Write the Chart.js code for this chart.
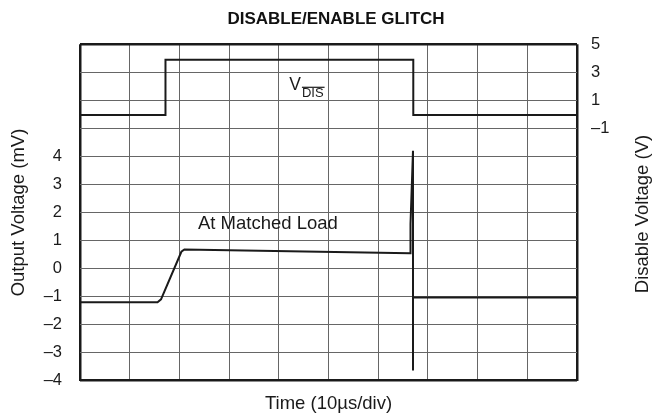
<!DOCTYPE html>
<html>
<head>
<meta charset="utf-8">
<script src="https://cdn.jsdelivr.net/npm/chart.js@4/dist/chart.umd.min.js"></script>
<style>
  html, body { margin: 0; padding: 0; background: #fff; }
  canvas { display: block; }
</style>
</head>
<body>
<canvas id="glitch" width="654" height="414"></canvas>
<script>
// Output trace at matched load (time in µs, output in mV)
const outputTimeUs = [0, 15.6, 16.3, 20.4, 21.0, 66.4, 66.5, 67.0, 67.0, 67.0, 100];
const outputMv     = [-1.2, -1.2, -1.1, 0.6, 0.68, 0.55, 1.6, 4.2, -3.64, -1.03, -1.03];

// Disable control voltage (time in µs, volts)
const disableTimeUs = [0, 17.2, 17.2, 67.06, 67.06, 100];
const disableV      = [-0.05, -0.05, 3.9, 3.9, -0.05, -0.05];

// Tick labels shown on each vertical axis
const outputTicks  = [-4, -3, -2, -1, 0, 1, 2, 3, 4];
const disableTicks = [5, 3, 1, -1];

const FONT = '"Liberation Sans", Arial, Helvetica, sans-serif';
const INK = '#1a1a1a';

const fmt = v => (v < 0 ? '\u2013' + Math.abs(v) : String(v));
const pairs = (xs, ys) => xs.map((x, i) => ({ x, y: ys[i] }));

// Grid: heavy frame on the outer lines, thin gray inside
const edgeWidth = (lo, hi) => ctx => {
  const v = ctx.tick ? ctx.tick.value : null;
  return (v === lo || v === hi) ? 2.5 : 1;
};
const edgeColor = (lo, hi) => ctx => {
  const v = ctx.tick ? ctx.tick.value : null;
  return (v === lo || v === hi) ? INK : '#666';
};

// Chart title, right-hand axis title (reads bottom to top) and in-plot labels
const labels = {
  id: 'labels',
  afterDraw(chart) {
    const { ctx, scales, chartArea } = chart;
    const x = scales.x, y = scales.y, y2 = scales.y2;
    ctx.save();
    ctx.fillStyle = INK;
    ctx.strokeStyle = INK;

    // DISABLE/ENABLE GLITCH
    ctx.font = 'bold 17px ' + FONT;
    ctx.fillStyle = '#111';
    ctx.textAlign = 'center';
    ctx.textBaseline = 'middle';
    ctx.fillText('DISABLE/ENABLE GLITCH', 336, 19.5);
    ctx.fillStyle = INK;

    // Disable Voltage (V)
    ctx.save();
    ctx.translate(642.5, (chartArea.top + chartArea.bottom) / 2 + 1.5);
    ctx.rotate(-Math.PI / 2);
    ctx.font = '18.5px ' + FONT;
    ctx.textAlign = 'center';
    ctx.textBaseline = 'middle';
    ctx.fillText('Disable Voltage (V)', 0, 0);
    ctx.restore();

    // V with overlined DIS subscript
    const vx = x.getPixelForValue(42.1);
    const vy = y2.getPixelForValue(1.74);
    ctx.textAlign = 'left';
    ctx.textBaseline = 'alphabetic';
    ctx.font = '17.5px ' + FONT;
    ctx.fillText('V', vx, vy);
    const sx = vx + ctx.measureText('V').width + 1;
    ctx.font = '13px ' + FONT;
    ctx.fillText('DIS', sx, vy + 7.3);
    const w = ctx.measureText('DIS').width;
    ctx.lineWidth = 1.2;
    ctx.beginPath();
    ctx.moveTo(sx, vy - 2.7);
    ctx.lineTo(sx + w + 1, vy - 2.7);
    ctx.stroke();

    // At Matched Load
    ctx.font = '18.5px ' + FONT;
    ctx.fillText('At Matched Load', x.getPixelForValue(23.74), y.getPixelForValue(1.41));
    ctx.restore();
  }
};

new Chart(document.getElementById('glitch'), {
  type: 'line',
  data: {
    datasets: [
      {
        label: 'Output',
        data: pairs(outputTimeUs, outputMv),
        yAxisID: 'y',
        borderColor: INK,
        borderWidth: 2,
        pointRadius: 0,
        tension: 0,
        fill: false
      },
      {
        label: 'V_DIS',
        data: pairs(disableTimeUs, disableV),
        yAxisID: 'y2',
        borderColor: INK,
        borderWidth: 2,
        pointRadius: 0,
        tension: 0,
        fill: false
      }
    ]
  },
  options: {
    responsive: false,
    animation: false,
    events: [],
    layout: { padding: { top: 44.3, left: 0, right: 0, bottom: 0 } },
    plugins: {
      legend: { display: false },
      tooltip: { enabled: false },
      title: { display: false }
    },
    scales: {
      x: {
        type: 'linear',
        min: 0,
        max: 100,
        ticks: { stepSize: 10, display: false },
        grid: { color: edgeColor(0, 100), lineWidth: edgeWidth(0, 100), drawTicks: false },
        border: { display: false },
        title: {
          display: true,
          text: 'Time (10\u00b5s/div)',
          color: INK,
          font: { family: FONT, size: 18.5 },
          padding: { top: 0, bottom: -1 }
        },
        afterFit(s) { s.height = 33.3; }
      },
      y: {
        type: 'linear',
        position: 'left',
        min: -4,
        max: 8,
        ticks: {
          stepSize: 1,
          padding: 18,
          color: INK,
          font: { family: FONT, size: 16.5 },
          callback: v => (outputTicks.includes(v) ? fmt(v) : '')
        },
        grid: { color: edgeColor(-4, 8), lineWidth: edgeWidth(-4, 8), drawTicks: false },
        border: { display: false },
        title: {
          display: true,
          text: 'Output Voltage (mV)',
          color: INK,
          font: { family: FONT, size: 18.5 },
          padding: { top: 8, bottom: 0 }
        },
        afterFit(s) { s.width = 80; }
      },
      y2: {
        type: 'linear',
        position: 'right',
        min: -19,
        max: 5,
        ticks: {
          stepSize: 2,
          padding: 14,
          color: INK,
          font: { family: FONT, size: 16.5 },
          callback: v => (disableTicks.includes(v) ? fmt(v) : '')
        },
        grid: { display: false, drawTicks: false },
        border: { display: false },
        afterFit(s) { s.width = 77; }
      }
    }
  },
  plugins: [labels]
});
</script>
</body>
</html>
